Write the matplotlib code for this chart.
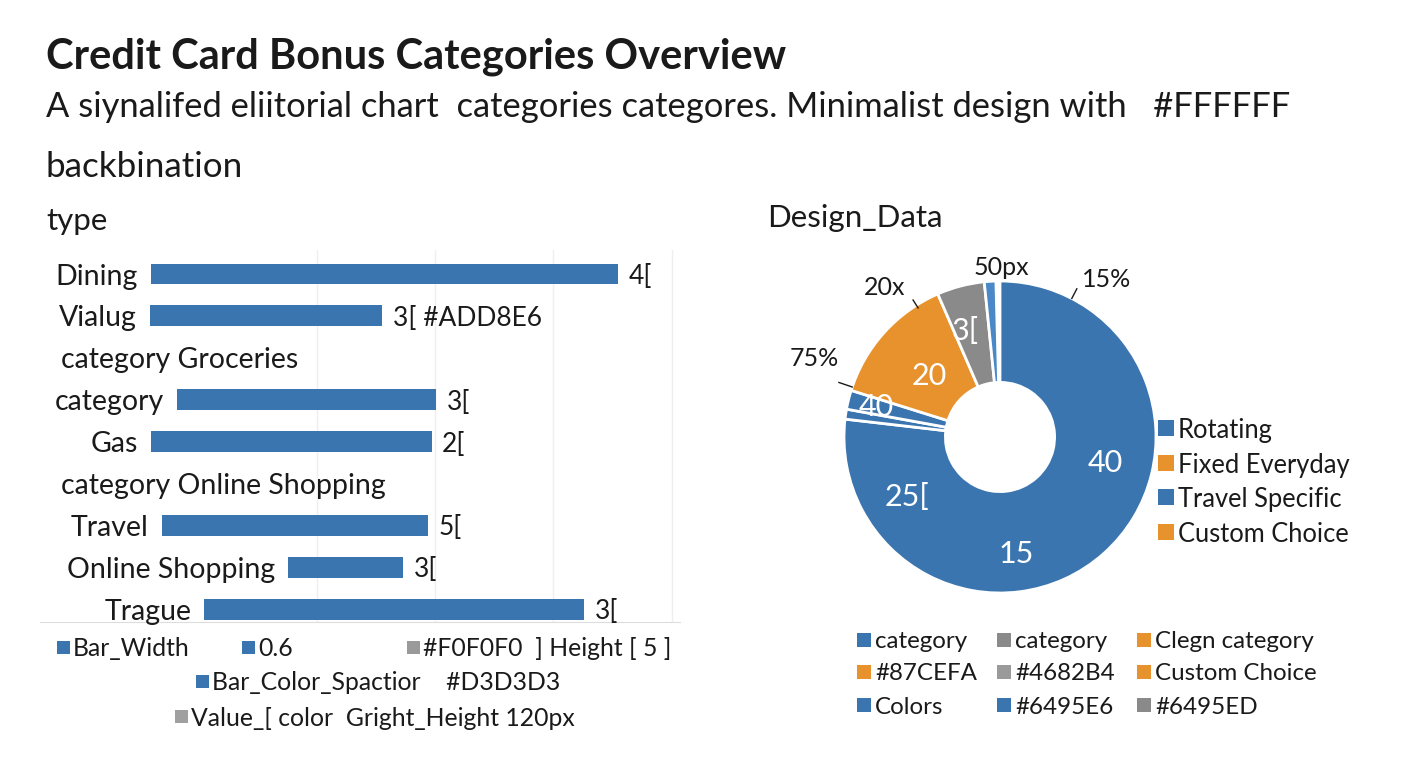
import numpy as np
import matplotlib
matplotlib.use("Agg")
import matplotlib.pyplot as plt
from matplotlib.patches import Rectangle

plt.rcParams['font.family'] = ['Lato', 'DejaVu Sans']

# ==========================================
# DATA
# ==========================================
bar_labels = ["Dining", "Vialug", "category Groceries", "category", "Gas",
              "category Online Shopping", "Travel", "Online Shopping", "Trague"]
bar_starts = [0.60, 0.59, np.nan, 0.82, 0.60, np.nan, 0.69, 1.76, 1.05]
bar_ends = [4.55, 2.55, np.nan, 3.01, 2.97, np.nan, 2.94, 2.73, 4.26]
bar_value_text = ["4[", "3[ #ADD8E6", "", "3[", "2[", "", "5[", "3[", "3["]

pie_values = [76.83, 1.03, 1.97, 13.64, 4.92, 1.19]
pie_colors = ["#3A75B0", "#3A75B0", "#3A75B0", "#E8922E", "#8A8A8A", "#4A88C8"]

pie_inner_text = ["40", "15", "25[", "40", "20", "3["]
pie_outer_text = ["15%", "20x", "75%", "50px"]

side_legend_labels = ["Rotating", "Fixed Everyday", "Travel Specific", "Custom Choice"]
side_legend_colors = ["#3A75B0", "#E8922E", "#3A75B0", "#E8922E"]

pie_legend_labels = [["category", "category", "Clegn category"],
                     ["#87CEFA", "#4682B4", "Custom Choice"],
                     ["Colors", "#6495E6", "#6495ED"]]
pie_legend_colors = [["#3A75B0", "#8A8A8A", "#E8922E"],
                     ["#E8922E", "#9A9A9A", "#E8922E"],
                     ["#3A75B0", "#3A75B0", "#8A8A8A"]]

bar_legend_labels = [["Bar_Width", "0.6", "#F0F0F0  ] Height [ 5 ]"],
                     ["Bar_Color_Spactior    #D3D3D3"],
                     ["Value_[ color  Gright_Height 120px"]]
bar_legend_colors = [["#3A75B0", "#3A75B0", "#9A9A9A"],
                     ["#3A75B0"],
                     ["#A0A0A0"]]

# ==========================================
# LAYOUT
# ==========================================
W, H = 1408, 768
TXT = "#1A1A1A"


def fx(px):
    return px / W


def fy(py):
    return 1 - py / H


def legend_item(x, y, color, label, size=14, gap=4, fs=16):
    fig.add_artist(Rectangle((fx(x), fy(y + size / 2)), size / W, size / H,
                             transform=fig.transFigure, color=color, lw=0))
    fig.text(fx(x + size + gap), fy(y), label, fontsize=fs, color=TXT,
             va="center_baseline", ha="left")


fig = plt.figure(figsize=(W / 100, H / 100), dpi=100)
fig.patch.set_facecolor("white")

fig.text(fx(46), fy(69), "Credit Card Bonus Categories Overview",
         fontsize=30, weight="bold", color=TXT, va="baseline")
fig.text(fx(46), fy(117),
         "A siynalifed eliitorial chart  categories categores. Minimalist design with   #FFFFFF",
         fontsize=24.85, color=TXT, va="baseline")
fig.text(fx(46), fy(177), "backbination", fontsize=25.2, color=TXT, va="baseline")
fig.text(fx(46), fy(230), "type", fontsize=22.5, color=TXT, va="baseline")
fig.text(fx(767), fy(227), "Design_Data", fontsize=22.5, color=TXT, va="baseline")

# ---------------- bar chart ----------------
ax = fig.add_axes([fx(40), fy(622), (680 - 40) / W, (622 - 250) / H])
rows = np.arange(len(bar_labels))
starts = np.array(bar_starts)
widths = np.array(bar_ends) - starts
ax.barh(rows, widths, left=starts, height=0.5, color="#3A75B0", zorder=3)
ax.set_xlim(-0.34, 5.07)
ax.set_ylim(8.305, -0.573)
ax.set_xticks([2, 3, 4, 5])
ax.grid(axis="x", color="#EFEFEF", lw=1, zorder=0)
ax.tick_params(left=False, bottom=False, labelleft=False, labelbottom=False)
for s in ["left", "right", "top"]:
    ax.spines[s].set_visible(False)
ax.spines["bottom"].set_color("#DDDDDD")

for i, lab in enumerate(bar_labels):
    if np.isnan(bar_starts[i]):
        ax.text(-0.165, i, lab, fontsize=20.5, color=TXT, ha="left", va="center_baseline")
    else:
        ax.text(bar_starts[i] - 0.11, i, lab, fontsize=20.5, color=TXT,
                ha="right", va="center_baseline")
        ax.text(bar_ends[i] + 0.09, i, bar_value_text[i], fontsize=19, color=TXT,
                ha="left", va="center_baseline")

# bar legends
bl_pos = [[(57, 647), (242, 647), (407, 647)], [(196, 681)], [(175, 716)]]
for r, row in enumerate(bar_legend_labels):
    for c, lab in enumerate(row):
        x, y = bl_pos[r][c]
        legend_item(x, y, bar_legend_colors[r][c], lab, size=13, gap=3, fs=17.8)

# ---------------- donut ----------------
R = 156
cx, cy = 1000, 437
lim = 1.4
pax = fig.add_axes([fx(cx - lim * R), fy(cy + lim * R), 2 * lim * R / W, 2 * lim * R / H])
wedges, _ = pax.pie([v / 100 for v in pie_values], colors=pie_colors, startangle=90,
                    counterclock=False, normalize=False, radius=1.0,
                    wedgeprops=dict(width=0.65, edgecolor="white", linewidth=2))
pax.set_xlim(-lim, lim)
pax.set_ylim(-lim, lim)
pax.set_aspect("equal")
pax.axis("off")


def polar(theta, r):
    t = np.deg2rad(theta)
    return r * np.sin(t), r * np.cos(t)


# label spots: (clockwise angle from top, radius)
inner_pos = [(102.8, 0.69), (172, 0.74), (238.3, 0.70), (284.5, 0.82), (312, 0.61), (342.2, 0.73)]
for k, lab in enumerate(pie_inner_text):
    x, y = polar(*inner_pos[k])
    t = pax.text(x, y, lab, fontsize=22, color="white", ha="center", va="center_baseline")
    if k == 3:
        t.set_clip_path(wedges[2])

outer_pos = [(33.8, 1.23), (322.7, 1.22), (293.4, 1.30), (0.3, 1.10)]
outer_line = [(27.4, 1.0, 1.07), (327.6, 0.98, 1.04), (288.7, 1.0, 1.09), None]
for k, lab in enumerate(pie_outer_text):
    x, y = polar(*outer_pos[k])
    pax.text(x, y, lab, fontsize=18, color=TXT, ha="center", va="center_baseline")
    if outer_line[k] is not None:
        th, r0, r1 = outer_line[k]
        p0, p1 = polar(th, r0), polar(th, r1)
        pax.plot([p0[0], p1[0]], [p0[1], p1[1]], color=TXT, lw=1)

for k, lab in enumerate(side_legend_labels):
    legend_item(1158, 428 + k * 34.7, side_legend_colors[k], lab, size=16, gap=4, fs=18.4)

col_x = [857, 997, 1137]
row_y = [640, 672, 705]
for r, row in enumerate(pie_legend_labels):
    for c, lab in enumerate(row):
        legend_item(col_x[c], row_y[r], pie_legend_colors[r][c], lab, size=14, gap=4, fs=17.4)

fig.savefig("out.png", dpi=100, facecolor="white")
